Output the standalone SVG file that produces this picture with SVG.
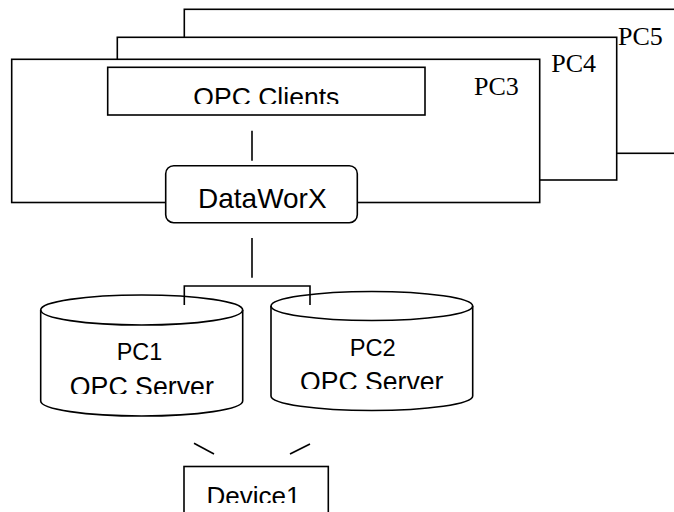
<svg xmlns="http://www.w3.org/2000/svg" width="674" height="512" viewBox="0 0 674 512">
<style>
.box{fill:#fff;stroke:#000;stroke-width:1.6}
.conn{fill:none;stroke:#000;stroke-width:1.6}
.sans{font-family:"Liberation Sans",Arial,sans-serif;font-size:26px;fill:#000;text-anchor:middle}
.serif{font-family:"Liberation Serif","Times New Roman",serif;font-size:26px;fill:#000}
</style>
<defs>
<clipPath id="clipClients"><rect x="0" y="0" width="674" height="104"/></clipPath>
<clipPath id="clipS1"><rect x="0" y="0" width="674" height="394"/></clipPath>
<clipPath id="clipS2"><rect x="0" y="0" width="674" height="389"/></clipPath>
<clipPath id="clipDev"><rect x="0" y="0" width="674" height="503"/></clipPath>
</defs>
<g id="pc5">
<rect class="box" x="184.3" y="9.3" width="520" height="144"/>
<text class="serif" x="618" y="45">PC5</text>
</g>
<g id="pc4">
<rect class="box" x="117.3" y="37.3" width="499.4" height="142.7"/>
<text class="serif" x="551.3" y="71.7">PC4</text>
</g>
<g id="pc3">
<rect class="box" x="11.7" y="59.3" width="528" height="143.2"/>
<text class="serif" x="474" y="95">PC3</text>
</g>
<g id="opc-clients">
<rect class="box" x="107.7" y="67.3" width="317.3" height="47.7"/>
<text class="sans" style="font-size:26.5px" x="266.3" y="105.8" textLength="146" lengthAdjust="spacingAndGlyphs" clip-path="url(#clipClients)">OPC Clients</text>
</g>
<g id="dataworx">
<rect class="box" x="165.7" y="165.7" width="191.6" height="57" rx="8" ry="8"/>
<text class="sans" style="font-size:28px" x="262.3" y="208.3" textLength="128.5" lengthAdjust="spacingAndGlyphs">DataWorX</text>
</g>
<g id="pc1">
<path class="box" d="M40.7,310 A101,15 0 0 1 242.7,310 V401 A101,15 0 0 1 40.7,401 Z"/>
<path class="conn" d="M40.7,310 A101,15 0 0 0 242.7,310"/>
<text class="sans" style="font-size:24px" x="139.5" y="360" textLength="45.5" lengthAdjust="spacingAndGlyphs">PC1</text>
<text class="sans" style="font-size:27px" x="141.8" y="396" textLength="144" lengthAdjust="spacingAndGlyphs" clip-path="url(#clipS1)">OPC Server</text>
</g>
<g id="pc2">
<path class="box" d="M271,306 A100.85,14.5 0 0 1 472.7,306 V396 A100.85,14.5 0 0 1 271,396 Z"/>
<path class="conn" d="M271,306 A100.85,14.5 0 0 0 472.7,306"/>
<text class="sans" style="font-size:24px" x="372.7" y="356" textLength="46" lengthAdjust="spacingAndGlyphs">PC2</text>
<text class="sans" style="font-size:27px" x="371.7" y="391" textLength="143.3" lengthAdjust="spacingAndGlyphs" clip-path="url(#clipS2)">OPC Server</text>
</g>
<g id="device1">
<rect class="box" x="184" y="466.5" width="144.3" height="60"/>
<text class="sans" x="253.5" y="504.6" textLength="94" lengthAdjust="spacingAndGlyphs" clip-path="url(#clipDev)">Device1</text>
</g>
<g id="connectors">
<line class="conn" x1="252" y1="130.7" x2="252" y2="160.7"/>
<line class="conn" x1="252" y1="238" x2="252" y2="277.7"/>
<path class="conn" d="M184.3,305 V286 H310 V305"/>
<line class="conn" x1="194" y1="443.3" x2="214" y2="454"/>
<line class="conn" x1="290" y1="454" x2="310" y2="444"/>
</g>
</svg>
